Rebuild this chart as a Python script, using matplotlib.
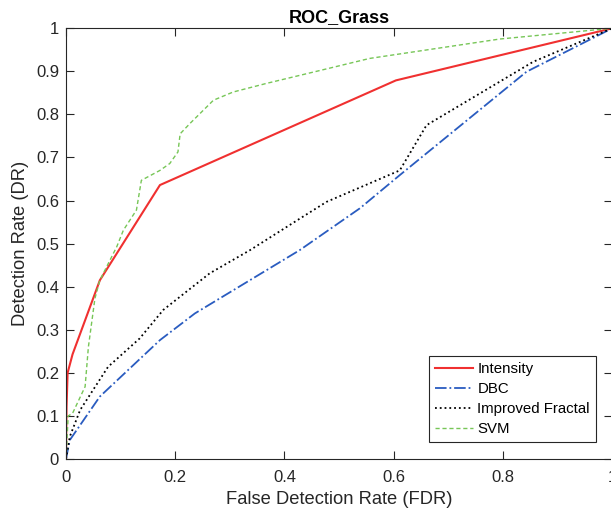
import matplotlib
matplotlib.use("Agg")
import matplotlib.pyplot as plt

plt.rcParams['font.family'] = ['Liberation Sans', 'DejaVu Sans']

# ROC curves
intensity_x = [0, 0.001, 0.003, 0.012, 0.062, 0.172, 0.604, 1.0]
intensity_y = [0, 0.12, 0.20, 0.243, 0.415, 0.636, 0.879, 1.0]

dbc_x = [0, 0.007, 0.062, 0.172, 0.236, 0.428, 0.538, 0.611, 0.843, 1.0]
dbc_y = [0, 0.044, 0.145, 0.276, 0.338, 0.485, 0.582, 0.659, 0.899, 1.0]

fractal_x = [0, 0.007, 0.026, 0.077, 0.135, 0.178, 0.263, 0.337, 0.428, 0.477,
             0.611, 0.660, 0.855, 1.0]
fractal_y = [0, 0.052, 0.114, 0.214, 0.280, 0.346, 0.431, 0.485, 0.558, 0.597,
             0.670, 0.775, 0.922, 1.0]

svm_x = [0, 0.004, 0.012, 0.035, 0.041, 0.053, 0.062, 0.093, 0.105, 0.129, 0.138,
         0.172, 0.190, 0.205, 0.209, 0.227, 0.270, 0.306, 0.367, 0.465, 0.556,
         0.794, 1.0]
svm_y = [0, 0.100, 0.106, 0.168, 0.260, 0.373, 0.415, 0.493, 0.531, 0.578, 0.647,
         0.670, 0.686, 0.713, 0.755, 0.779, 0.833, 0.852, 0.872, 0.902, 0.930,
         0.975, 1.0]

xticks = [0, 0.2, 0.4, 0.6, 0.8, 1]
yticks = [0, 0.1, 0.2, 0.3, 0.4, 0.5, 0.6, 0.7, 0.8, 0.9, 1]

fig = plt.figure(figsize=(6.11, 5.14), dpi=100)
ax = fig.add_axes([0.108, 0.107, 0.894, 0.838])

ax.plot(intensity_x, intensity_y, color='#f03030', lw=1.5, ls='-', label='Intensity')
ax.plot(dbc_x, dbc_y, color='#2a5cc0', lw=1.3, ls='-.', label='DBC')
ax.plot(fractal_x, fractal_y, color='black', lw=1.3, ls=':', label='Improved Fractal')
ax.plot(svm_x, svm_y, color='#77c657', lw=1.0, ls='--', dashes=(3, 2), label='SVM')

ax.set_xlim(0, 1)
ax.set_ylim(0, 1)
ax.set_xticks(xticks)
ax.set_xticklabels([f'{t:g}' for t in xticks])
ax.set_yticks(yticks)
ax.set_yticklabels([f'{t:g}' for t in yticks])
ax.tick_params(direction='in', top=True, right=True, length=6, width=0.8,
               colors='#262626', labelsize=12)
ax.tick_params(axis='x', pad=8)
ax.tick_params(axis='y', pad=5)
for s in ax.spines.values():
    s.set_color('#262626')
    s.set_linewidth(0.8)

ax.set_title('ROC_Grass', fontsize=13, fontweight='bold', pad=4.5)
ax.set_xlabel('False Detection Rate (FDR)', fontsize=13.2, color='#262626')
ax.set_ylabel('Detection Rate (DR)', fontsize=13.2, color='#262626')
ax.xaxis.set_label_coords(0.5, -0.075)
ax.yaxis.set_label_coords(-0.068, 0.5)

leg = ax.legend(loc='lower right', bbox_to_anchor=(0.97, 0.039), borderaxespad=0,
                fontsize=10.8, fancybox=False, framealpha=1, edgecolor='#262626',
                handlelength=2.5, borderpad=0.4, labelspacing=0.41,
                handletextpad=0.3)
leg.get_frame().set_linewidth(0.8)

fig.savefig('out.png', dpi=100)
